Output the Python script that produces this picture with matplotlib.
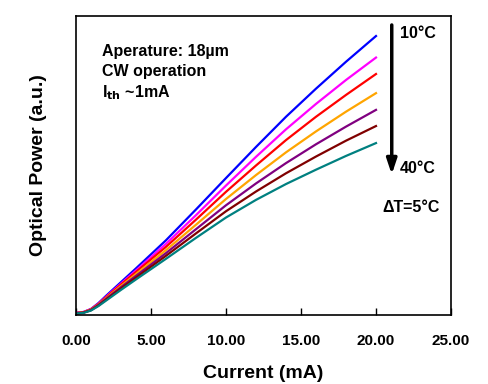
import matplotlib
matplotlib.use('Agg')
import matplotlib.pyplot as plt

plt.rcParams['font.family'] = ['Liberation Sans', 'DejaVu Sans']
plt.rcParams['font.weight'] = 'bold'

# drive current (mA)
current = [0, 0.5, 1, 1.5, 2, 3, 4, 6, 8, 10, 12, 14, 16, 18, 20]

# optical power (a.u.), 10C .. 40C in 5C steps
p_10C = [0.008, 0.010, 0.020, 0.040, 0.064, 0.110, 0.156, 0.250, 0.353, 0.458, 0.562, 0.663, 0.757, 0.847, 0.933]
p_15C = [0.007, 0.010, 0.020, 0.038, 0.061, 0.105, 0.149, 0.238, 0.334, 0.433, 0.529, 0.621, 0.706, 0.786, 0.861]
p_20C = [0.007, 0.009, 0.019, 0.037, 0.059, 0.102, 0.144, 0.228, 0.319, 0.412, 0.500, 0.585, 0.663, 0.736, 0.806]
p_25C = [0.006, 0.009, 0.018, 0.035, 0.056, 0.097, 0.137, 0.217, 0.302, 0.388, 0.468, 0.544, 0.614, 0.680, 0.742]
p_30C = [0.006, 0.008, 0.017, 0.034, 0.054, 0.093, 0.131, 0.207, 0.287, 0.367, 0.440, 0.508, 0.571, 0.630, 0.686]
p_35C = [0.005, 0.008, 0.016, 0.032, 0.051, 0.089, 0.125, 0.198, 0.273, 0.347, 0.413, 0.474, 0.530, 0.583, 0.632]
p_40C = [0.005, 0.007, 0.015, 0.030, 0.048, 0.084, 0.119, 0.188, 0.258, 0.326, 0.385, 0.438, 0.486, 0.532, 0.575]

series = [p_10C, p_15C, p_20C, p_25C, p_30C, p_35C, p_40C]
colors = ['#0000ff', '#ff00ff', '#ff0000', '#ffa500', '#800080', '#800000', '#008080']

x_ticks = [0, 5, 10, 15, 20, 25]

fig = plt.figure(figsize=(4.89, 3.84), dpi=100)
ax = fig.add_axes([76 / 489, 69 / 384, 375 / 489, 299 / 384])

for p, c in zip(series, colors):
    ax.plot(current, p, color=c, lw=1.6)

ax.set_xlim(0, 25)
ax.set_ylim(0, 1)
ax.set_xticks(x_ticks)
ax.set_xticklabels(['%.2f' % t for t in x_ticks], fontsize=11, fontweight='bold')
ax.set_yticks([])
ax.tick_params(axis='x', direction='in', length=5, width=1, pad=14)
for s in ax.spines.values():
    s.set_linewidth(1.2)

ax.set_xlabel('Current (mA)', fontsize=14, fontweight='bold', labelpad=12)
ax.set_ylabel('Optical Power (a.u.)', fontsize=14, fontweight='bold', labelpad=21)

ax.text(0.07, 0.88, 'Aperature: 18\u00b5m', transform=ax.transAxes,
        fontsize=11.5, fontweight='bold', va='center')
ax.text(0.07, 0.816, 'CW operation', transform=ax.transAxes,
        fontsize=11.5, fontweight='bold', va='center')
ax.text(0.07, 0.742, r'I$_{\mathbf{th}}$ ~1mA', transform=ax.transAxes,
        fontsize=11.5, fontweight='bold', va='center')

ax.annotate('', xy=(21.05, 0.47), xytext=(21.05, 0.97),
            arrowprops=dict(arrowstyle='-|>,head_width=0.3,head_length=0.9',
                            color='black', lw=2.5, shrinkA=0, shrinkB=0))
ax.text(21.6, 0.94, '10\u00b0C', fontsize=11.5, fontweight='bold', va='center')
ax.text(21.6, 0.49, '40\u00b0C', fontsize=11.5, fontweight='bold', va='center')
ax.text(24.25, 0.36, '\u0394T=5\u00b0C', fontsize=11.5, fontweight='bold', va='center', ha='right')

fig.savefig('out.png', dpi=100)
